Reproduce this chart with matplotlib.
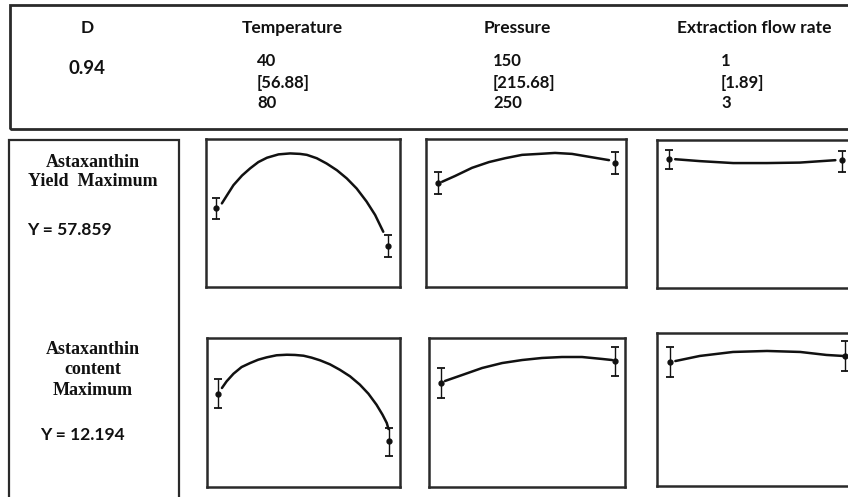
import matplotlib
matplotlib.use("Agg")
import matplotlib.pyplot as plt
from matplotlib.patches import Rectangle

# ---------------- data ----------------
desirability = "0.94"
factor_names = ["Temperature", "Pressure", "Extraction flow rate"]
factor_low = ["40", "150", "1"]
factor_opt = ["[56.88]", "[215.68]", "[1.89]"]
factor_high = ["80", "250", "3"]

temp_levels = [40, 80]
pres_levels = [150, 250]
flow_levels = [1, 3]

response_labels = ["Astaxanthin\nYield  Maximum", "Astaxanthin\ncontent\nMaximum"]
response_values = ["Y = 57.859", "Y = 12.194"]

# Row 1: astaxanthin yield
yield_temp_x = [41.3, 42.5, 44.0, 46.0, 47.9, 49.8, 51.8, 54.5, 57.2, 59.5, 61.1,
                63.4, 65.7, 68.1, 70.4, 72.7, 75.0, 77.0, 78.9]
yield_temp_y = [47.4, 49.1, 51.2, 53.2, 54.7, 56.0, 56.9, 57.6, 57.8, 57.7, 57.5,
                56.8, 55.7, 54.3, 52.6, 50.5, 47.8, 45.0, 41.5]
yield_temp_mean = [46.4, 38.5]
yield_temp_lo = [44.2, 36.2]
yield_temp_hi = [48.5, 40.8]

yield_pres_x = [152.3, 159.6, 169.2, 178.8, 187.9, 197.5, 207.1, 216.1, 225.7, 235.3, 246.6]
yield_pres_y = [51.9, 53.1, 54.8, 56.0, 56.8, 57.5, 57.7, 57.9, 57.7, 57.1, 56.4]
yield_pres_mean = [51.6, 55.8]
yield_pres_lo = [49.4, 53.5]
yield_pres_hi = [53.9, 58.1]

yield_flow_x = [1.07, 1.36, 1.74, 1.94, 2.13, 2.51, 2.92]
yield_flow_y = [56.8, 56.4, 56.0, 56.0, 56.0, 56.1, 56.6]
yield_flow_mean = [56.8, 56.6]
yield_flow_lo = [54.8, 54.1]
yield_flow_hi = [58.7, 58.5]

# Row 2: astaxanthin content
content_temp_x = [40.9, 42.0, 43.6, 45.5, 47.5, 49.4, 51.4, 53.7, 56.1, 58.0, 60.0,
                  61.9, 63.9, 66.2, 68.5, 70.9, 73.2, 75.2, 77.1, 78.5, 79.5, 79.9]
content_temp_y = [9.17, 9.79, 10.49, 11.11, 11.48, 11.79, 12.01, 12.20, 12.25, 12.23, 12.16,
                  11.98, 11.73, 11.36, 10.86, 10.25, 9.48, 8.64, 7.62, 6.70, 5.93, 5.37]
content_temp_mean = [8.61, 4.26]
content_temp_lo = [7.32, 2.87]
content_temp_hi = [10.0, 5.46]

content_pres_x = [152.3, 162.1, 173.6, 185.1, 196.6, 208.0, 219.5, 231.0, 242.5, 248.3]
content_pres_y = [9.82, 10.37, 11.02, 11.48, 11.76, 11.95, 12.04, 12.04, 11.86, 11.76]
content_pres_mean = [9.63, 11.67]
content_pres_lo = [8.24, 10.28]
content_pres_hi = [11.02, 12.97]

content_flow_x = [1.06, 1.34, 1.72, 2.11, 2.49, 2.79, 2.98]
content_flow_y = [11.27, 11.73, 12.09, 12.18, 12.09, 11.82, 11.73]
content_flow_mean = [11.18, 11.73]
content_flow_lo = [9.83, 10.37]
content_flow_hi = [12.54, 13.08]

# ---------------- layout ----------------
W, H = 848, 497
fig = plt.figure(figsize=(W / 100, H / 100), dpi=100)
fig.patch.set_facecolor("white")


def fx(px):
    return px / W


def fy(py):
    return 1 - py / H


def add_box(x0, y0, x1, y1, lw):
    fig.patches.append(Rectangle((fx(x0), fy(y1)), fx(x1) - fx(x0), fy(y0) - fy(y1),
                                 transform=fig.transFigure, fill=False,
                                 edgecolor="#2a2a2a", linewidth=lw, zorder=5))


# header box (extends beyond the right edge) and response label box
add_box(10, 5, 880, 129, 2.0)
add_box(9, 140, 179, 520, 1.6)

sans = ["Lato", "DejaVu Sans"]
serif = ["Liberation Serif", "DejaVu Serif"]

fig.text(fx(87), fy(28), "D", ha="center", va="center", fontsize=12.5, fontweight="bold",
         family=sans, color="#111")
fig.text(fx(87), fy(69), desirability, ha="center", va="center", fontsize=13.5,
         fontweight="bold", family=sans, color="#111")

head_cx = [292, 517, 754]
val_lx = [257, 493, 721]
for i in range(3):
    fig.text(fx(head_cx[i]), fy(28), factor_names[i], ha="center", va="center",
             fontsize=12.5, fontweight="bold", family=sans, color="#111")
    fig.text(fx(val_lx[i]), fy(61), factor_low[i], ha="left", va="center",
             fontsize=12, fontweight="bold", family=sans, color="#111")
    fig.text(fx(val_lx[i]), fy(83), factor_opt[i], ha="left", va="center",
             fontsize=12, fontweight="bold", family=sans, color="#111")
    fig.text(fx(val_lx[i]), fy(103), factor_high[i], ha="left", va="center",
             fontsize=12, fontweight="bold", family=sans, color="#111")

fig.text(fx(93), fy(172), response_labels[0], ha="center", va="center", fontsize=13,
         fontweight="bold", family=serif, color="#111", linespacing=1.2)
fig.text(fx(27), fy(230), response_values[0], ha="left", va="center", fontsize=12.5,
         fontweight="bold", family=sans, color="#111")
fig.text(fx(93), fy(370), response_labels[1], ha="center", va="center", fontsize=13,
         fontweight="bold", family=serif, color="#111", linespacing=1.3)
fig.text(fx(40), fy(435), response_values[1], ha="left", va="center", fontsize=12.5,
         fontweight="bold", family=sans, color="#111")

# panel boxes in pixels: (left, top, right, bottom)
panels = [
    ((206, 139, 400, 287), (37.6, 82.8), (30, 60.8), yield_temp_x, yield_temp_y,
     temp_levels, yield_temp_mean, yield_temp_lo, yield_temp_hi),
    ((426, 139, 626, 287), (143.2, 256.2), (30, 60.8), yield_pres_x, yield_pres_y,
     pres_levels, yield_pres_mean, yield_pres_lo, yield_pres_hi),
    ((657, 140, 857, 288), (0.86, 3.17), (30, 60.8), yield_flow_x, yield_flow_y,
     flow_levels, yield_flow_mean, yield_flow_lo, yield_flow_hi),
    ((207, 338, 400, 487), (37.4, 82.6), (0, 13.8), content_temp_x, content_temp_y,
     temp_levels, content_temp_mean, content_temp_lo, content_temp_hi),
    ((429, 338, 625, 487), (143.1, 255.7), (0, 13.8), content_pres_x, content_pres_y,
     pres_levels, content_pres_mean, content_pres_lo, content_pres_hi),
    ((657, 333, 857, 486), (0.85, 3.14), (0, 13.8), content_flow_x, content_flow_y,
     flow_levels, content_flow_mean, content_flow_lo, content_flow_hi),
]

for box, xl, yl, cx, cy, lv, mean, lo, hi in panels:
    l, t, r, b = box
    ax = fig.add_axes([fx(l), fy(b), fx(r) - fx(l), fy(t) - fy(b)])
    ax.set_xlim(*xl)
    ax.set_ylim(*yl)
    ax.plot(cx, cy, color="#111", linewidth=1.8, solid_capstyle="round",
            solid_joinstyle="round")
    yerr = [[m - a for m, a in zip(mean, lo)], [c - m for m, c in zip(mean, hi)]]
    ax.errorbar(lv, mean, yerr=yerr, fmt="o", color="#111", markersize=3.5,
                elinewidth=1.0, capsize=3, capthick=1.3, clip_on=False)
    ax.set_xticks([])
    ax.set_yticks([])
    for s in ax.spines.values():
        s.set_linewidth(1.8)
        s.set_color("#2a2a2a")

fig.savefig("out.png", dpi=100, facecolor="white")
